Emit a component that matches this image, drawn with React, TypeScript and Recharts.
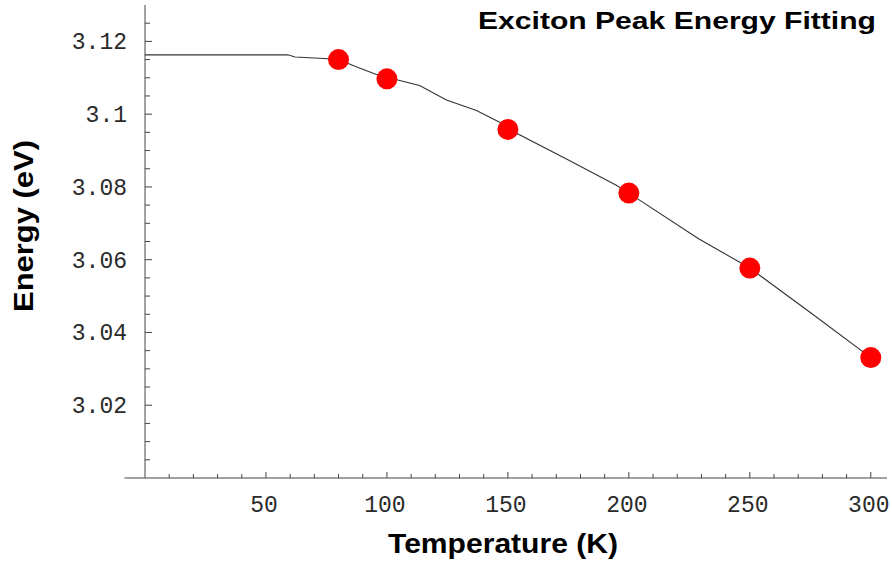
import React from "react";
import { ComposedChart, XAxis, YAxis, Line, Scatter, ReferenceLine } from "recharts";

// Measured exciton peak energies (eV) vs temperature (K)
const measuredT = [80, 100, 150, 200, 250, 300];
const measuredE = [3.115, 3.1097, 3.0958, 3.0783, 3.0577, 3.0331];

// Fitted curve, sampled vertices
const fitT = [0, 59, 62, 74, 80, 87, 100, 104.5, 113.5, 124.6, 137, 146.6, 150, 175, 195, 200, 229, 250, 275, 300];
const fitE = [
  3.1163, 3.1163, 3.1157, 3.1153, 3.115, 3.1131, 3.1098, 3.1094, 3.1079, 3.1039,
  3.101, 3.0978, 3.096, 3.0874, 3.0804, 3.0783, 3.0657, 3.0577, 3.0455, 3.0331,
];

// Axis ticks (major ticks carry labels, the rest are minor marks)
const xMajor = [50, 100, 150, 200, 250, 300];
const xTicks = [10, 20, 30, 40, 50, 60, 70, 80, 90, 100, 110, 120, 130, 140, 150, 160, 170, 180, 190, 200, 210, 220, 230, 240, 250, 260, 270, 280, 290, 300];
const yMajor = [3.02, 3.04, 3.06, 3.08, 3.1, 3.12];
const yTicks = [3.005, 3.01, 3.015, 3.02, 3.025, 3.03, 3.035, 3.04, 3.045, 3.05, 3.055, 3.06, 3.065, 3.07, 3.075, 3.08, 3.085, 3.09, 3.095, 3.1, 3.105, 3.11, 3.115, 3.12, 3.125];

const chartTitle = "Exciton Peak Energy Fitting";
const xTitle = "Temperature (K)";
const yTitle = "Energy (eV)";

const points = measuredT.map((t, i) => ({ t, e: measuredE[i] }));
const curve = fitT.map((t, i) => ({ t, e: fitE[i] }));

const W = 892;
const H = 567;
const PLOT_LEFT = 145;
const PLOT_BOTTOM = 478;
const AXIS_COLOR = "#444";
const TICK_FONT = "'Liberation Mono', 'DejaVu Sans Mono', monospace";
const TITLE_FONT = "'Liberation Sans', Arial, Helvetica, sans-serif";

const isMajor = (list: number[], v: number) => list.some((m) => Math.abs(m - v) < 1e-9);

const XTick = (props: any) => {
  const { x, payload } = props;
  const v = payload.value as number;
  const major = isMajor(xMajor, v);
  return (
    <g>
      <line x1={x} x2={x} y1={PLOT_BOTTOM} y2={PLOT_BOTTOM - (major ? 6 : 4)} stroke={AXIS_COLOR} strokeWidth={1} />
      {major && (
        <text x={x - 2} y={512} textAnchor="middle" fontFamily={TICK_FONT} fontSize={23} fill="#2a2a2a">
          {String(v)}
        </text>
      )}
    </g>
  );
};

const YTick = (props: any) => {
  const { y, payload } = props;
  const v = payload.value as number;
  const major = isMajor(yMajor, v);
  return (
    <g>
      <line x1={PLOT_LEFT} x2={PLOT_LEFT + (major ? 7 : 5)} y1={y} y2={y} stroke={AXIS_COLOR} strokeWidth={1} />
      {major && (
        <text x={127} y={y + 8} textAnchor="end" fontFamily={TICK_FONT} fontSize={23} fill="#2a2a2a">
          {String(Number(v.toFixed(2)))}
        </text>
      )}
    </g>
  );
};

const Dot = (props: any) => {
  const { cx, cy } = props;
  return <circle cx={cx} cy={cy} r={10.5} fill="#ff0000" />;
};

export default function App() {
  return (
    <div style={{ position: "absolute", left: 0, top: 0, width: W, height: H, background: "#fff" }}>
      <ComposedChart width={W} height={H} margin={{ top: 5, right: 5, bottom: 0, left: 0 }}>
        <XAxis
          type="number"
          dataKey="t"
          domain={[0, 306.7]}
          allowDataOverflow
          ticks={xTicks}
          interval={0}
          height={89}
          axisLine={{ stroke: AXIS_COLOR, strokeWidth: 1 }}
          tickLine={false}
          tick={<XTick />}
        />
        <YAxis
          type="number"
          dataKey="e"
          domain={[3.0, 3.13]}
          allowDataOverflow
          ticks={yTicks}
          interval={0}
          width={PLOT_LEFT}
          axisLine={{ stroke: AXIS_COLOR, strokeWidth: 1 }}
          tickLine={false}
          tick={<YTick />}
        />
        <ReferenceLine
          segment={[{ x: -8.5, y: 3.0 }, { x: 0, y: 3.0 }]}
          ifOverflow="visible"
          stroke={AXIS_COLOR}
          strokeWidth={1}
        />
        <Line
          data={curve}
          dataKey="e"
          type="linear"
          stroke="#333"
          strokeWidth={1.1}
          dot={false}
          activeDot={false}
          isAnimationActive={false}
        />
        <Scatter data={points} dataKey="e" shape={<Dot />} isAnimationActive={false} />
        <text
          x={478}
          y={29}
          textLength={398}
          lengthAdjust="spacingAndGlyphs"
          fontFamily={TITLE_FONT}
          fontWeight="bold"
          fontSize={23}
          fill="#000"
        >
          {chartTitle}
        </text>
        <text
          x={388}
          y={553}
          textLength={230}
          lengthAdjust="spacingAndGlyphs"
          fontFamily={TITLE_FONT}
          fontWeight="bold"
          fontSize={28}
          fill="#000"
        >
          {xTitle}
        </text>
        <text
          x={0}
          y={0}
          transform="translate(33, 312) rotate(-90)"
          textLength={172}
          lengthAdjust="spacingAndGlyphs"
          fontFamily={TITLE_FONT}
          fontWeight="bold"
          fontSize={28}
          fill="#000"
        >
          {yTitle}
        </text>
      </ComposedChart>
    </div>
  );
}
